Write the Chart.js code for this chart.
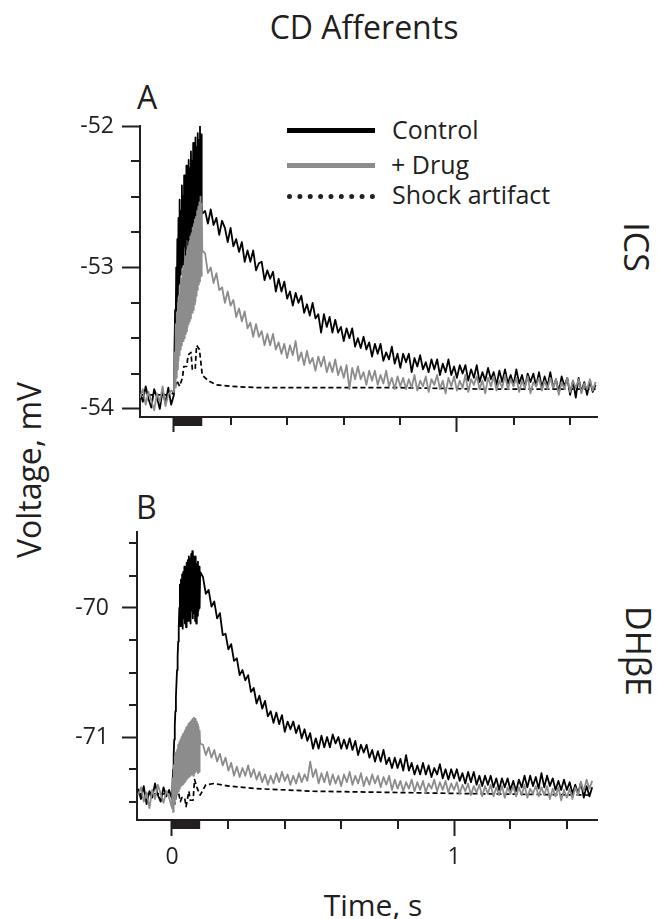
<!DOCTYPE html>
<html>
<head>
<meta charset="utf-8">
<script src="https://cdn.jsdelivr.net/npm/chart.js@4.4.1/dist/chart.umd.min.js"></script>
<style>
  html, body { margin: 0; padding: 0; background: #fff; }
  body { width: 658px; height: 919px; position: relative; overflow: hidden; font-family: 'Open Sans', sans-serif; color: #231f20; }
  canvas { position: absolute; left: 0; }
  .txt { position: absolute; line-height: 1; white-space: nowrap; }
  .rot { position: absolute; line-height: 1; white-space: nowrap; transform-origin: center center; }
  .swatch { position: absolute; }
</style>
</head>
<body>
<div class="txt" style="left:364px; top:11px; font-size:32px; transform:translateX(-50%);">CD Afferents</div>
<div class="txt" style="left:137px; top:81px; font-size:32px;">A</div>
<div class="txt" style="left:136px; top:491px; font-size:32px;">B</div>

<div class="swatch" style="left:287px; top:128px; width:88px; height:5px; background:#000;"></div>
<div class="swatch" style="left:287px; top:163px; width:88px; height:5px; background:#8c8c8c;"></div>
<div class="swatch" style="left:287px; top:194px; width:88px; height:0; border-top:5px dotted #231f20;"></div>
<div class="txt" style="left:392px; top:117px; font-size:25px;">Control</div>
<div class="txt" style="left:391px; top:152px; font-size:25px;">+ Drug</div>
<div class="txt" style="left:392px; top:182px; font-size:25px;">Shock artifact</div>

<div class="rot" style="left:637px; top:247px; font-size:34px; transform:translate(-50%,-50%) rotate(90deg);">ICS</div>
<div class="rot" style="left:639px; top:651px; font-size:34px; transform:translate(-50%,-50%) rotate(90deg);">DHβE</div>
<div class="rot" style="left:29px; top:470px; font-size:32px; transform:translate(-50%,-50%) rotate(-90deg);">Voltage, mV</div>
<div class="txt" style="left:373px; top:890px; font-size:30px; transform:translateX(-50%);">Time, s</div>

<canvas id="panelA" width="658" height="350" style="top:100px; width:658px; height:350px;"></canvas>
<canvas id="panelB" width="658" height="420" style="top:480px; width:658px; height:420px;"></canvas>

<script>
// sampling grid: pre-stimulus, stimulus train (denser), decay
function grid(start, step, n) {
    const out = [];
    for (let i = 0; i < n; i++) out.push(+(start + i * step).toFixed(4));
    return out;
}
const sampleTimes = [...grid(-0.12, 0.01, 12), ...grid(0, 0.002, 51), ...grid(0.11, 0.01, 139)];

// ---- panel A (ICS), mV ----
const controlA = [
    -53.88, -53.95, -53.84, -53.93, -53.99, -53.86, -53.92, -54.00, -53.87, -53.96, -53.85, -53.97,
    // stimulus train
    -53.90, -53.55, -53.30, -53.45, -53.00, -53.30, -52.80, -53.20, -52.65, -53.12, -52.52,
    -53.05, -52.60, -53.00, -52.42, -52.90, -52.50, -52.98, -52.35, -52.85, -52.40,
    -52.92, -52.28, -52.80, -52.33, -52.86, -52.24, -52.75, -52.30, -52.80, -52.18,
    -52.72, -52.25, -52.76, -52.12, -52.68, -52.20, -52.72, -52.08, -52.65, -52.15,
    -52.70, -52.05, -52.62, -52.10, -52.66, -52.00, -52.58, -52.06, -52.55, -52.62,
    // decay
    -52.60, -52.69, -52.59, -52.70, -52.65, -52.77, -52.67, -52.72, -52.82, -52.72,
    -52.85, -52.80, -52.89, -52.82, -52.96, -52.88, -52.96, -52.88, -53.02, -52.97,
    -52.96, -53.09, -53.02, -53.08, -53.03, -53.17, -53.08, -53.17, -53.10, -53.22,
    -53.17, -53.27, -53.18, -53.25, -53.20, -53.32, -53.26, -53.34, -53.25, -53.36,
    -53.33, -53.46, -53.33, -53.42, -53.35, -53.46, -53.37, -53.46, -53.42, -53.52,
    -53.43, -53.50, -53.43, -53.56, -53.50, -53.57, -53.49, -53.58, -53.53, -53.63,
    -53.54, -53.61, -53.54, -53.66, -53.60, -53.65, -53.56, -53.68, -53.61, -53.71,
    -53.61, -53.67, -53.61, -53.74, -53.64, -53.70, -53.62, -53.72, -53.67, -53.74,
    -53.65, -53.72, -53.65, -53.76, -53.68, -53.74, -53.65, -53.76, -53.70, -53.78,
    -53.69, -53.75, -53.69, -53.80, -53.72, -53.78, -53.69, -53.81, -53.74, -53.80,
    -53.71, -53.79, -53.74, -53.83, -53.73, -53.81, -53.72, -53.82, -53.76, -53.83,
    -53.72, -53.82, -53.76, -53.85, -53.75, -53.81, -53.75, -53.84, -53.74, -53.85,
    -53.77, -53.84, -53.74, -53.85, -53.79, -53.88, -53.77, -53.84, -53.78, -53.90,
    -53.80, -53.92, -53.78, -53.88, -53.81, -53.90, -53.80, -53.88, -53.83
];
const drugA = [
    -53.92, -53.86, -53.97, -53.88, -53.94, -54.01, -53.89, -53.95, -53.84, -53.98, -53.90, -53.87,
    // stimulus train
    -53.88, -53.60, -53.85, -53.40, -53.78, -53.32, -53.72, -53.25, -53.66, -53.20, -53.62,
    -53.12, -53.58, -53.08, -53.55, -53.02, -53.52, -53.00, -53.50, -52.96, -53.47,
    -52.92, -53.45, -52.88, -53.42, -52.85, -53.40, -52.82, -53.38, -52.78, -53.36,
    -52.76, -53.32, -52.72, -53.30, -52.70, -53.26, -52.66, -53.24, -52.64, -53.20,
    -52.60, -53.16, -52.57, -53.12, -52.54, -53.10, -52.50, -53.06, -52.55, -52.88,
    // decay
    -52.90, -53.04, -53.00, -53.11, -53.04, -53.16, -53.14, -53.25, -53.17, -53.27,
    -53.23, -53.35, -53.29, -53.38, -53.31, -53.43, -53.39, -53.49, -53.40, -53.49,
    -53.45, -53.55, -53.47, -53.55, -53.47, -53.58, -53.53, -53.61, -53.54, -53.64,
    -53.55, -53.62, -53.52, -53.66, -53.60, -53.69, -53.59, -53.68, -53.64, -53.73,
    -53.63, -53.70, -53.63, -53.74, -53.67, -53.74, -53.65, -53.76, -53.70, -53.78,
    -53.69, -53.86, -53.71, -53.79, -53.70, -53.79, -53.74, -53.83, -53.73, -53.80,
    -53.73, -53.83, -53.76, -53.82, -53.73, -53.84, -53.78, -53.86, -53.77, -53.84,
    -53.78, -53.86, -53.79, -53.85, -53.76, -53.87, -53.80, -53.84, -53.77, -53.88,
    -53.79, -53.83, -53.76, -53.86, -53.80, -53.89, -53.78, -53.84, -53.77, -53.87,
    -53.80, -53.85, -53.76, -53.88, -53.79, -53.83, -53.77, -53.86, -53.80, -53.89,
    -53.78, -53.84, -53.77, -53.87, -53.80, -53.85, -53.76, -53.86, -53.79, -53.84,
    -53.78, -53.88, -53.80, -53.85, -53.77, -53.89, -53.81, -53.84, -53.78, -53.87,
    -53.80, -53.86, -53.78, -53.85, -53.79, -53.90, -53.81, -53.86, -53.78, -53.88,
    -53.80, -53.85, -53.79, -53.89, -53.82, -53.86, -53.79, -53.87, -53.81
];
const shockTimes = [-0.12, -0.06, -0.01, 0, 0.01, 0.02, 0.03, 0.035, 0.045, 0.05, 0.06, 0.065, 0.075, 0.08, 0.09, 0.1, 0.12, 0.15, 0.2, 0.3, 0.5, 0.8, 1.1, 1.49];
const shockA = [-53.90, -53.90, -53.90, -53.88, -53.80, -53.84, -53.78, -53.70, -53.70, -53.62, -53.60, -53.72, -53.72, -53.55, -53.58, -53.76, -53.80, -53.83, -53.84, -53.85, -53.85, -53.85, -53.86, -53.86];

// ---- panel B (DHbE), mV ----
const controlB = [
    -71.40, -71.48, -71.38, -71.52, -71.42, -71.47, -71.36, -71.45, -71.50, -71.39, -71.46, -71.41,
    // stimulus train
    -71.48, -71.36, -71.25, -71.14, -71.02, -70.91, -70.80, -70.69, -70.58, -70.48, -70.38,
    -70.26, -70.15, -70.00, -69.82, -70.14, -69.78, -70.10, -69.74, -70.16, -69.72,
    -70.08, -69.68, -70.12, -69.70, -70.15, -69.65, -70.05, -69.63, -70.10, -69.60,
    -70.06, -69.62, -70.12, -69.58, -70.02, -69.56, -70.08, -69.60, -70.04, -69.64,
    -70.10, -69.60, -70.12, -69.66, -70.06, -69.64, -70.02, -69.68, -70.00, -69.72,
    // decay
    -69.76, -69.89, -69.86, -69.99, -69.95, -70.08, -70.04, -70.21, -70.20, -70.32,
    -70.28, -70.41, -70.39, -70.52, -70.48, -70.56, -70.52, -70.65, -70.62, -70.74,
    -70.68, -70.78, -70.72, -70.84, -70.80, -70.89, -70.81, -70.90, -70.83, -70.96,
    -70.88, -70.94, -70.88, -70.97, -70.91, -71.01, -70.94, -71.03, -70.97, -71.09,
    -71.01, -71.09, -70.99, -71.08, -71.00, -71.08, -70.98, -71.05, -71.00, -71.09,
    -71.02, -71.09, -71.01, -71.10, -71.03, -71.14, -71.06, -71.12, -71.06, -71.16,
    -71.10, -71.19, -71.11, -71.19, -71.10, -71.21, -71.16, -71.24, -71.16, -71.24,
    -71.17, -71.26, -71.14, -71.26, -71.20, -71.29, -71.22, -71.29, -71.20, -71.29,
    -71.22, -71.31, -71.24, -71.29, -71.21, -71.32, -71.25, -71.33, -71.25, -71.32,
    -71.25, -71.34, -71.28, -71.36, -71.27, -71.35, -71.27, -71.37, -71.30, -71.38,
    -71.30, -71.37, -71.30, -71.39, -71.32, -71.41, -71.32, -71.39, -71.32, -71.41,
    -71.34, -71.42, -71.33, -71.39, -71.30, -71.39, -71.30, -71.38, -71.31, -71.40,
    -71.28, -71.39, -71.30, -71.38, -71.32, -71.41, -71.34, -71.41, -71.33, -71.41,
    -71.35, -71.44, -71.37, -71.44, -71.35, -71.47, -71.38, -71.46, -71.39
];
const drugB = [
    -71.45, -71.39, -71.50, -71.43, -71.55, -71.41, -71.48, -71.37, -71.44, -71.51, -71.42, -71.47,
    // stimulus train
    -71.55, -71.32, -71.58, -71.22, -71.52, -71.15, -71.48, -71.12, -71.45, -71.10, -71.44,
    -71.06, -71.42, -71.04, -71.40, -71.02, -71.38, -71.00, -71.37, -70.98, -71.36,
    -70.97, -71.35, -70.95, -71.34, -70.93, -71.33, -70.92, -71.32, -70.90, -71.31,
    -70.89, -71.30, -70.88, -71.29, -70.87, -71.28, -70.86, -71.30, -70.85, -71.28,
    -70.86, -71.27, -70.88, -71.26, -70.90, -71.28, -70.92, -71.27, -70.95, -71.05,
    // decay
    -71.06, -71.14, -71.08, -71.16, -71.10, -71.19, -71.13, -71.22, -71.16, -71.26,
    -71.20, -71.30, -71.23, -71.31, -71.24, -71.30, -71.22, -71.31, -71.25, -71.33,
    -71.27, -71.35, -71.29, -71.37, -71.30, -71.36, -71.28, -71.35, -71.27, -71.34,
    -71.29, -71.37, -71.30, -71.36, -71.28, -71.35, -71.29, -71.34, -71.19, -71.31,
    -71.25, -71.36, -71.28, -71.35, -71.27, -71.37, -71.29, -71.36, -71.30, -71.38,
    -71.29, -71.35, -71.27, -71.37, -71.30, -71.36, -71.28, -71.38, -71.31, -71.37,
    -71.29, -71.36, -71.30, -71.39, -71.31, -71.37, -71.30, -71.41, -71.33, -71.40,
    -71.34, -71.42, -71.35, -71.40, -71.33, -71.42, -71.35, -71.41, -71.34, -71.43,
    -71.36, -71.40, -71.33, -71.42, -71.35, -71.41, -71.34, -71.43, -71.36, -71.41,
    -71.35, -71.44, -71.37, -71.42, -71.36, -71.45, -71.38, -71.43, -71.37, -71.46,
    -71.38, -71.44, -71.37, -71.46, -71.39, -71.45, -71.38, -71.47, -71.39, -71.44,
    -71.38, -71.46, -71.39, -71.45, -71.37, -71.47, -71.40, -71.44, -71.38, -71.46,
    -71.39, -71.45, -71.38, -71.48, -71.40, -71.46, -71.39, -71.49, -71.41, -71.47,
    -71.40, -71.48, -71.39, -71.45, -71.35, -71.42, -71.33, -71.40, -71.34
];
const shockB = [-71.44, -71.44, -71.44, -71.46, -71.52, -71.40, -71.50, -71.47, -71.47, -71.54, -71.42, -71.49, -71.49, -71.33, -71.40, -71.45, -71.37, -71.36, -71.38, -71.40, -71.42, -71.43, -71.44, -71.45];

// axes
const yMajorA = [-52, -53, -54];
const yMajorB = [-70, -71];
const xMajor = [0, 1];
const stimWindow = [0, 0.1];

const INK = '#231f20';
const GREY = '#8c8c8c';

function toPoints(xs, ys) {
    if (xs.length !== ys.length) console.warn('length mismatch', xs.length, ys.length);
    return ys.map((y, i) => ({ x: xs[i], y: y }));
}

const isIn = (list, v) => list.some(m => Math.abs(m - v) < 1e-6);

// minor ticks + stimulus bar under the time axis
const axisExtras = {
    id: 'axisExtras',
    afterDraw(chart, args, opts) {
        const ctx = chart.ctx;
        const xs = chart.scales.x, ys = chart.scales.y;
        ctx.save();
        ctx.strokeStyle = INK;
        ctx.lineWidth = 2;
        ctx.beginPath();
        xs.ticks.forEach(t => {
            if (isIn(xMajor, t.value)) return;
            const px = Math.round(xs.getPixelForValue(t.value));
            ctx.moveTo(px, xs.top);
            ctx.lineTo(px, xs.top + opts.xMinor);
        });
        ys.ticks.forEach(t => {
            if (isIn(opts.yMajor, t.value)) return;
            const py = Math.round(ys.getPixelForValue(t.value));
            ctx.moveTo(ys.right - opts.yMinor, py);
            ctx.lineTo(ys.right, py);
        });
        ctx.stroke();
        const x0 = xs.getPixelForValue(stimWindow[0]);
        const x1 = xs.getPixelForValue(stimWindow[1]);
        ctx.fillStyle = INK;
        ctx.fillRect(x0, xs.top, x1 - x0, 9);
        ctx.restore();
    }
};

function buildPanel(canvasId, cfg) {
    const ctx = document.getElementById(canvasId).getContext('2d');
    return new Chart(ctx, {
        type: 'line',
        data: {
            datasets: [
                { label: '+ Drug', data: toPoints(sampleTimes, cfg.drug), borderColor: GREY, borderWidth: 1.8 },
                { label: 'Control', data: toPoints(sampleTimes, cfg.control), borderColor: '#000', borderWidth: 1.8 },
                { label: 'Shock artifact', data: toPoints(shockTimes, cfg.shock), borderColor: '#000', borderWidth: 1.7, borderDash: [5, 3] }
            ]
        },
        options: {
            responsive: false,
            animation: false,
            events: [],
            elements: {
                point: { radius: 0 },
                line: { tension: 0, borderJoinStyle: 'round' }
            },
            layout: { padding: cfg.padding },
            scales: {
                x: {
                    type: 'linear',
                    min: cfg.xMin,
                    max: cfg.xMax,
                    afterFit: s => { s.height = cfg.xHeight; },
                    border: { display: true, color: INK, width: 2 },
                    grid: {
                        display: true,
                        drawOnChartArea: false,
                        drawTicks: true,
                        tickLength: cfg.xMajorLen,
                        tickWidth: 2,
                        tickColor: c => isIn(xMajor, c.tick.value) ? INK : 'rgba(0,0,0,0)'
                    },
                    ticks: {
                        stepSize: 0.2,
                        includeBounds: false,
                        autoSkip: false,
                        maxRotation: 0,
                        padding: 8,
                        color: INK,
                        font: { family: "'Open Sans', sans-serif", size: 23 },
                        callback: v => (cfg.xLabels && isIn(xMajor, v)) ? String(Math.round(v)) : ''
                    }
                },
                y: {
                    type: 'linear',
                    min: cfg.yMin,
                    max: cfg.yMax,
                    afterFit: s => { s.width = cfg.yWidth; },
                    border: { display: true, color: INK, width: 2 },
                    grid: {
                        display: true,
                        drawOnChartArea: false,
                        drawTicks: true,
                        tickLength: cfg.yMajorLen,
                        tickWidth: 2,
                        tickColor: c => isIn(cfg.yMajor, c.tick.value) ? INK : 'rgba(0,0,0,0)'
                    },
                    ticks: {
                        stepSize: 0.25,
                        includeBounds: false,
                        autoSkip: false,
                        padding: cfg.yPad,
                        color: INK,
                        font: { family: "'Open Sans', sans-serif", size: 23 },
                        callback: v => isIn(cfg.yMajor, v) ? String(Math.round(v)) : ''
                    }
                }
            },
            plugins: {
                legend: { display: false },
                tooltip: { enabled: false },
                axisExtras: { xMinor: cfg.xMinorLen, yMinor: cfg.yMinorLen, yMajor: cfg.yMajor }
            }
        },
        plugins: [axisExtras]
    });
}

buildPanel('panelA', {
    control: controlA, drug: drugA, shock: shockA,
    xMin: -0.12, xMax: 1.495, yMin: -54.057, yMax: -52,
    yMajor: yMajorA, xLabels: false,
    padding: { top: 26, right: 61, left: 0, bottom: 0 },
    xHeight: 33, yWidth: 140,
    xMajorLen: 15, xMinorLen: 8, yMajorLen: 18, yMinorLen: 9, yPad: 8
});

buildPanel('panelB', {
    control: controlB, drug: drugB, shock: shockB,
    xMin: -0.124, xMax: 1.507, yMin: -71.643, yMax: -69.411,
    yMajor: yMajorB, xLabels: true,
    padding: { top: 52, right: 61, left: 0, bottom: 0 },
    xHeight: 80, yWidth: 137,
    xMajorLen: 16, xMinorLen: 9, yMajorLen: 15, yMinorLen: 8, yPad: 13
});
</script>
</body>
</html>
